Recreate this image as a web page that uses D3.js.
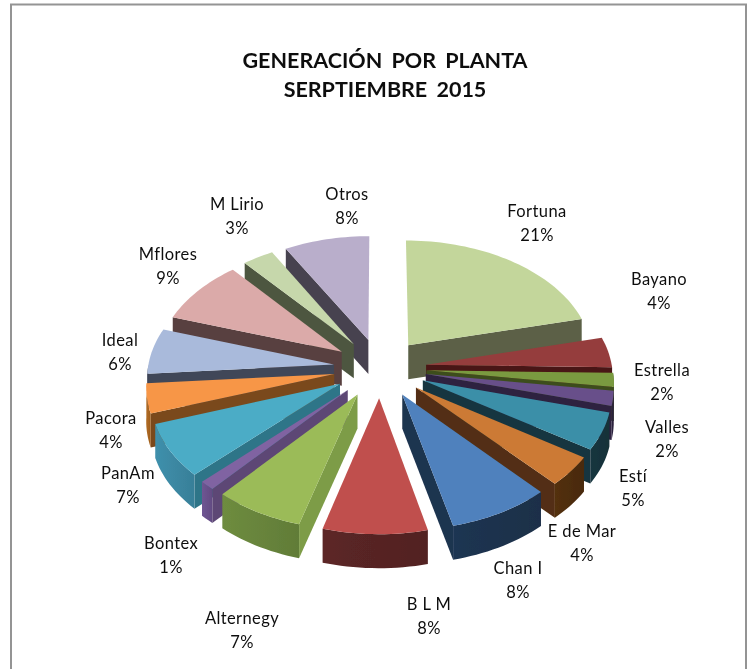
<!DOCTYPE html>
<html>
<head>
<meta charset="utf-8">
<script src="https://d3js.org/d3.v7.min.js"></script>
<style>
body { margin: 0; background: #fff; }
text { font-family: Lato, "Open Sans", sans-serif; fill: #111; }
</style>
</head>
<body>
<svg id="chart" width="755" height="669"></svg>
<script>
// Values (the labels round them)
const plants = ["Fortuna", "Bayano", "Estrella", "Valles", "Estí", "E de Mar", "Chan I", "B L M",
                "Alternegy", "Bontex", "PanAm", "Pacora", "Ideal", "Mflores", "M Lirio", "Otros"];
const shares = [21.2, 4.1, 1.9, 2.0, 5.0, 4.0, 8.0, 8.1, 7.0, 1.2, 7.2, 4.0, 6.2, 8.8, 3.0, 8.2];

const topColors  = ["#c3d69b", "#953e3d", "#7a9a3f", "#67508a", "#3b8fa8", "#cc7a35", "#4f81bd", "#c0504d",
                    "#9bbb59", "#8064a2", "#4bacc6", "#f79646", "#a9badb", "#dbaaa9", "#c6d7ab", "#b9aecb"];
const sideColors = ["#5b6146", "#4a1414", "#3d4d1f", "#2d2240", "#17363f", "#522f12", "#1f3450", "#4f1a1a",
                    "#7d9c47", "#5d4674", "#2f7488", "#7a4a1c", "#3f4758", "#58403f", "#4e5740", "#47424f"];
const rimColors  = ["#5b6146", "#4a1414", "#3d4d1f", "#2d2240", "#17363f", "#53300f", "#1f3552", "#5c2626",
                    "#6e8c3f", "#6f5593", "#3f90ac", "#b26b22", "#3f4758", "#58403f", "#4e5740", "#47424f"];

// label centres on the page
const labelX = [537, 659, 662, 667, 633, 582, 518, 429, 242, 171, 128, 111, 120, 168, 237, 347];
const labelY = [211, 279, 370, 427, 476, 531, 568, 604, 618, 543, 473, 418, 340, 254, 204, 194];

const width = 755, height = 669;
const cx = 380, cy = 368;
const rx = 186, ry = 118;   // radius on screen before perspective
const persp = 0.09;
const explode = 0.25;
const depth = 34;

const svg = d3.select("#chart");
const defs = svg.append("defs");

defs.append("filter").attr("id", "soft")
    .append("feGaussianBlur").attr("stdDeviation", 0.45);
defs.append("filter").attr("id", "softText")
    .append("feGaussianBlur").attr("stdDeviation", 0.3);

// chart frame, cut off by the bottom of the picture
svg.append("path")
    .attr("d", `M11,${height} V4.5 H746 V${height}`)
    .attr("fill", "none")
    .attr("stroke", "#949494")
    .attr("stroke-width", 2);

// tilted plane -> screen
function project(X, Y) {
    const s = 1 / (1 - persp * Y);
    return [cx + rx * X * s, cy + ry * Y * s];
}

const pie = d3.pie().sort(null).value(d => d)(shares);

const slices = pie.map((p, i) => {
    const mid = (p.startAngle + p.endAngle) / 2;
    const ox = explode * Math.sin(mid), oy = -explode * Math.cos(mid);
    const pt = (r, a) => project(ox + r * Math.sin(a), oy - r * Math.cos(a));
    return { i, p, mid, ox, oy, pt };
});

// back slices first
slices.sort((a, b) => a.oy - b.oy);

const line = d3.line();
const down = pts => pts.slice().reverse().map(q => [q[0], q[1] + depth]);

function arcPoints(s, a0, a1) {
    const n = Math.max(2, Math.ceil((a1 - a0) / 0.03));
    return d3.range(n + 1).map(k => s.pt(1, a0 + (a1 - a0) * k / n));
}

const pieG = svg.append("g").attr("filter", "url(#soft)");

slices.forEach(s => {
    const { i, p } = s;
    const g = pieG.append("g");
    const apex = s.pt(0, 0);

    // the radial wall that faces the viewer
    [[p.startAngle, Math.sin(p.startAngle) < -1e-6], [p.endAngle, Math.sin(p.endAngle) > 1e-6]].forEach(([a, vis]) => {
        if (!vis) return;
        const edge = [apex, s.pt(1, a)];
        g.append("path")
            .attr("d", line(edge.concat(down(edge))) + "Z")
            .attr("fill", sideColors[i]);
    });

    // outer wall, front half only
    const a0 = Math.max(p.startAngle, Math.PI / 2), a1 = Math.min(p.endAngle, Math.PI * 1.5);
    if (a1 > a0) {
        const rim = arcPoints(s, a0, a1);
        const id = "rim" + i;
        const grad = defs.append("linearGradient").attr("id", id);
        grad.append("stop").attr("offset", 0).attr("stop-color", rimColors[i]);
        grad.append("stop").attr("offset", 1).attr("stop-color", d3.color(rimColors[i]).darker(0.35));
        g.append("path")
            .attr("d", line(rim.concat(down(rim))) + "Z")
            .attr("fill", `url(#${id})`);
    }

    // top face
    const top = [apex].concat(arcPoints(s, p.startAngle, p.endAngle));
    g.append("path")
        .attr("d", line(top) + "Z")
        .attr("fill", topColors[i]);
});

// title
const title = svg.append("g")
    .attr("text-anchor", "middle")
    .attr("font-weight", 700)
    .attr("font-size", 21.5)
    .attr("word-spacing", 4)
    .attr("filter", "url(#softText)");
title.append("text").attr("x", 385).attr("y", 68).text("GENERACIÓN POR PLANTA");
title.append("text").attr("x", 385).attr("y", 97).text("SERPTIEMBRE 2015");

// labels
const labels = svg.append("g")
    .attr("text-anchor", "middle")
    .attr("font-size", 16.5)
    .attr("letter-spacing", 0.4)
    .attr("filter", "url(#softText)");
plants.forEach((name, i) => {
    labels.append("text").attr("x", labelX[i]).attr("y", labelY[i] + 6).text(name);
    labels.append("text").attr("x", labelX[i]).attr("y", labelY[i] + 30).text(Math.round(shares[i]) + "%");
});
</script>
</body>
</html>
